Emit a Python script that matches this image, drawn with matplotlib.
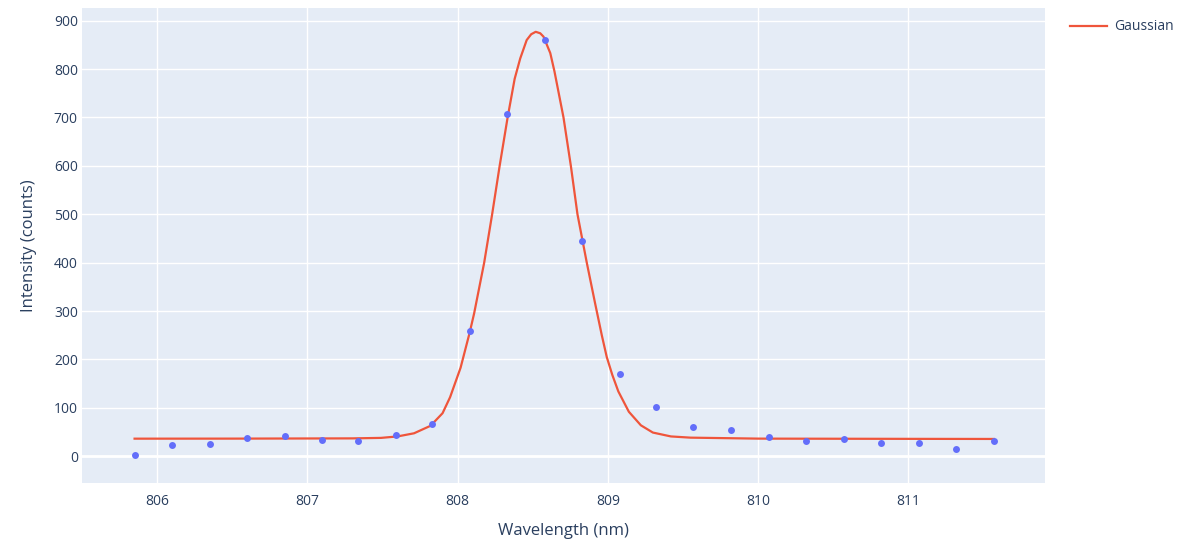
import matplotlib
matplotlib.use("Agg")
import matplotlib.pyplot as plt

plt.rcParams['font.family'] = ['Open Sans', 'DejaVu Sans']

wavelength = [805.85, 806.10, 806.35, 806.60, 806.85, 807.10, 807.34, 807.59, 807.83,
              808.08, 808.33, 808.58, 808.83, 809.08, 809.32, 809.57, 809.82, 810.07,
              810.32, 810.57, 810.82, 811.07, 811.32, 811.57]
intensity = [2, 23, 25, 37, 42, 33, 31, 44, 66,
             258, 708, 861, 444, 169, 102, 61, 55, 40,
             32, 36, 27, 28, 16, 31]

# gaussian fit curve
fit_x = [805.85, 806.50, 807.00, 807.30, 807.49, 807.60, 807.71, 807.82, 807.90, 807.95,
         808.02, 808.08, 808.11, 808.177, 808.23, 808.28, 808.333, 808.38, 808.417, 808.46,
         808.49, 808.52, 808.55, 808.572, 808.617, 808.645, 808.705, 808.754, 808.798, 808.86,
         808.916, 808.96, 808.993, 809.03, 809.07, 809.14, 809.22, 809.30, 809.42, 809.55,
         810.00, 811.00, 811.57]
fit_y = [36.4, 36.5, 36.8, 37.0, 38.0, 41.0, 47.5, 63, 89, 122,
         183, 255, 295, 400, 500, 600, 700, 780, 822, 860,
         872, 877, 874, 867, 833, 795, 700, 600, 500, 400,
         315, 250, 205, 168, 134, 92, 64, 49, 41, 38.5,
         36.5, 36.0, 35.8]

fig = plt.figure(figsize=(11.87, 5.40), dpi=100)
ax = fig.add_axes([82 / 1187, 57 / 540, 963 / 1187, 475 / 540])
ax.set_facecolor('#E5ECF6')

line, = ax.plot(fit_x, fit_y, color='#EF553B', lw=1.6, label='Gaussian', zorder=3,
                solid_joinstyle='round')
ax.plot(wavelength, intensity, 'o', color='#636EFA', ms=5, mec='none', zorder=4)

ax.set_xlim(805.50, 811.91)
ax.set_ylim(-55.2, 926.2)
ax.set_xticks([806, 807, 808, 809, 810, 811])
ax.set_yticks(range(0, 901, 100))
ax.grid(True, color='white', lw=1)
ax.axhline(0, color='white', lw=2, zorder=1)
ax.set_axisbelow(True)
for s in ax.spines.values():
    s.set_visible(False)
ax.tick_params(length=0, labelsize=10, labelcolor='#2a3f5f')
ax.tick_params(axis='x', pad=8)
ax.tick_params(axis='y', pad=3)

ax.set_xlabel('Wavelength (nm)', fontsize=12, color='#2a3f5f', labelpad=10)
ax.set_ylabel('Intensity (counts)', fontsize=12, color='#2a3f5f', labelpad=12)

fig.legend(handles=[line], loc='upper left', bbox_to_anchor=(1057 / 1187, 1 - 7 / 540),
           frameon=False, handlelength=2.7, handletextpad=0.5, fontsize=10,
           labelcolor='#2a3f5f')

fig.savefig('out.png', dpi=100)
